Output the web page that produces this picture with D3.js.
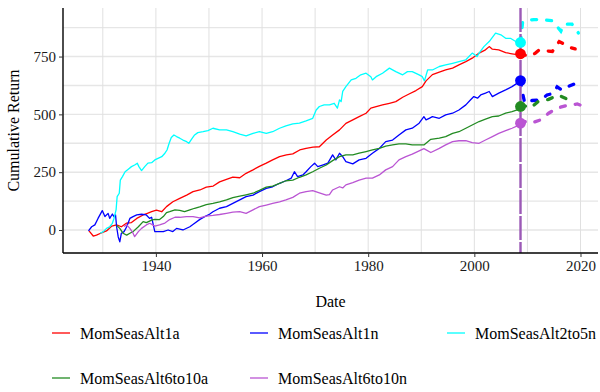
<!DOCTYPE html>
<html>
<head>
<meta charset="utf-8">
<script src="https://cdn.jsdelivr.net/npm/d3@7/dist/d3.min.js"></script>
<style>
  html, body { margin: 0; padding: 0; background: #fff; }
  svg { display: block; font-family: "Liberation Serif", "Times New Roman", serif; }
</style>
</head>
<body>
<svg id="chart" width="600" height="392"></svg>
<script>
// Series names and colours
const seriesNames = ["MomSeasAlt1a", "MomSeasAlt1n", "MomSeasAlt2to5n", "MomSeasAlt6to10a", "MomSeasAlt6to10n"];
const seriesColors = ["#ff0000", "#0000ff", "#00ffff", "#228b22", "#ba55d3"];

// Tick values
const yTicks = [0, 250, 500, 750];
const xTicks = [1940, 1960, 1980, 2000, 2020];

// Sample end (publication date)
const sampleEnd = 2008.7;

// In-sample cumulative returns: [year, value]
const alt1a = [
  [1927.4,-4],[1928.2,-26],[1928.8,-22],[1929.6,-14],[1930.7,-4],[1931.7,17],[1932.6,22],[1933.5,14],
  [1934.5,30],[1935.4,32],[1936.4,50],[1937.6,65],[1938.4,72],[1939.2,79],[1940.1,86],[1941.1,79],
  [1942.0,101],[1943.2,122],[1944.5,137],[1945.8,151],[1947.0,166],[1948.3,173],[1949.5,185],[1950.8,190],
  [1952.0,208],[1953.3,219],[1954.5,229],[1955.8,226],[1957.0,245],[1958.3,260],[1959.5,275],[1960.8,289],
  [1962.0,303],[1963.3,317],[1964.6,325],[1965.8,329],[1967.1,346],[1968.3,353],[1969.6,358],[1970.8,360],
  [1972.1,389],[1973.3,411],[1974.6,433],[1975.8,461],[1977.1,476],[1978.3,490],[1979.6,505],[1980.5,527],
  [1981.5,534],[1982.7,541],[1984.0,548],[1985.2,555],[1986.5,574],[1987.7,588],[1989.0,603],[1990.2,620],
  [1990.9,645],[1992.1,672],[1993.4,683],[1994.6,692],[1995.9,700],[1997.1,714],[1998.4,728],[1999.6,743],
  [2000.9,765],[2002.1,779],[2002.8,793],[2003.4,782],[2004.6,779],[2005.9,767],[2007.1,762],[2008.4,757],
  [2008.7,762]
];
const alt1n = [
  [1927.3,-4],[1927.9,14],[1928.5,22],[1929.1,50],[1929.9,84],[1930.4,58],[1931.0,72],[1931.3,50],
  [1931.8,69],[1932.1,58],[1932.4,65],[1932.6,14],[1932.9,-29],[1933.2,-51],[1933.5,-14],[1934.0,-7],
  [1934.5,14],[1935.1,50],[1935.7,58],[1936.4,65],[1937.3,68],[1938.2,65],[1938.8,50],[1939.2,55],
  [1939.8,-7],[1941.4,-7],[1942.3,0],[1943.2,-7],[1943.9,7],[1945.1,0],[1946.4,14],[1947.3,29],
  [1948.3,46],[1949.2,58],[1950.1,68],[1950.75,79],[1952.0,94],[1953.3,101],[1954.5,115],[1955.8,130],
  [1957.0,144],[1958.3,151],[1959.5,166],[1960.8,180],[1962.0,187],[1963.3,202],[1964.5,213],[1965.5,224],
  [1966.1,252],[1966.7,231],[1967.7,238],[1968.3,252],[1969.2,274],[1969.9,289],[1970.5,274],[1971.4,281],
  [1972.4,289],[1973.3,325],[1973.9,303],[1974.6,332],[1975.2,317],[1975.8,296],[1977.1,286],[1978.3,303],
  [1979.6,310],[1980.8,332],[1982.1,353],[1983.3,382],[1984.6,389],[1985.8,411],[1987.1,433],[1988.3,440],
  [1989.6,462],[1990.5,490],[1990.9,476],[1991.5,483],[1992.1,490],[1993.4,483],[1994.6,498],[1995.9,505],
  [1997.1,519],[1998.4,541],[1999.3,563],[1999.9,577],[2000.6,570],[2001.2,584],[2002.1,592],[2002.8,599],
  [2003.4,577],[2004.6,592],[2005.9,606],[2007.1,620],[2008.1,635],[2008.7,646]
];
const alt2to5n = [
  [1929.5,-14],[1930.1,-7],[1930.7,7],[1931.3,14],[1931.8,29],[1932.1,50],[1932.5,87],[1932.7,144],
  [1933.1,159],[1933.3,216],[1933.7,231],[1934.2,252],[1934.8,263],[1935.4,274],[1936.0,281],[1936.5,289],
  [1936.8,274],[1937.3,257],[1937.9,274],[1938.5,289],[1939.2,291],[1939.8,303],[1940.4,310],[1941.1,317],
  [1941.7,332],[1942.1,346],[1942.5,375],[1942.9,400],[1943.4,411],[1943.9,404],[1944.5,397],[1945.1,389],
  [1945.8,382],[1946.2,375],[1946.7,392],[1947.3,411],[1947.9,421],[1948.9,425],[1949.8,430],[1950.75,440],
  [1952.0,433],[1953.3,433],[1954.5,425],[1955.8,415],[1957.0,407],[1958.3,418],[1959.5,425],[1960.8,418],
  [1962.0,425],[1963.3,440],[1964.5,450],[1965.8,459],[1967.05,462],[1968.3,472],[1969.55,483],[1970.2,519],
  [1970.8,534],[1971.7,541],[1972.7,541],[1973.6,548],[1974.2,527],[1974.6,563],[1974.9,555],[1975.2,599],
  [1975.8,620],[1976.8,649],[1977.7,656],[1978.6,671],[1979.6,678],[1980.5,663],[1980.8,649],[1981.5,663],
  [1982.7,678],[1984.0,700],[1985.2,685],[1986.5,671],[1987.4,685],[1988.3,685],[1989.6,671],[1990.2,663],
  [1990.6,645],[1991.2,692],[1992.1,692],[1993.4,707],[1994.6,714],[1995.9,721],[1997.1,728],[1998.4,736],
  [1999.6,765],[2000.5,750],[2000.9,765],[2001.8,793],[2002.8,815],[2004.0,851],[2005.0,844],[2005.9,829],
  [2006.8,829],[2007.8,815],[2008.4,808],[2008.7,811]
];
const alt6to10a = [
  [1932.6,20],[1933.2,7],[1933.8,-14],[1934.5,-22],[1935.1,-14],[1935.7,-7],[1936.7,14],[1937.6,36],
  [1938.2,32],[1939.2,43],[1939.8,46],[1940.7,45],[1941.4,58],[1942.0,75],[1942.6,79],[1943.6,87],
  [1944.5,85],[1945.4,79],[1946.4,87],[1947.3,94],[1948.25,100],[1949.5,110],[1950.75,115],[1952.0,122],
  [1953.3,130],[1954.5,140],[1955.8,146],[1957.0,152],[1958.3,159],[1959.5,171],[1960.8,185],[1962.0,190],
  [1963.3,202],[1964.5,213],[1965.8,216],[1967.05,228],[1968.3,238],[1969.55,252],[1970.8,267],[1972.1,281],
  [1973.3,300],[1974.6,317],[1975.8,325],[1977.1,325],[1978.3,332],[1979.6,339],[1980.8,346],[1982.1,353],
  [1983.3,363],[1984.6,368],[1985.8,372],[1987.1,372],[1988.3,368],[1989.6,368],[1990.5,368],[1991.8,392],
  [1993.4,397],[1994.6,404],[1995.9,418],[1997.1,425],[1998.4,440],[1999.6,454],[2000.9,469],[2002.1,479],
  [2003.4,490],[2004.6,493],[2005.9,505],[2007.1,512],[2008.1,519],[2008.7,534]
];
const alt6to10n = [
  [1934.0,15],[1934.5,22],[1935.1,7],[1935.7,-14],[1936.0,-29],[1936.7,-7],[1937.3,7],[1938.2,22],
  [1938.85,29],[1939.8,17],[1940.7,22],[1941.7,30],[1942.6,45],[1943.6,55],[1944.5,55],[1945.75,58],
  [1947.0,58],[1948.25,52],[1949.5,60],[1950.75,63],[1952.0,67],[1953.3,72],[1954.5,77],[1955.8,79],
  [1957.0,72],[1958.3,87],[1959.5,101],[1960.8,108],[1962.0,115],[1963.3,122],[1964.5,130],[1965.8,141],
  [1967.05,159],[1968.3,166],[1969.55,170],[1970.8,161],[1972.1,151],[1972.7,153],[1973.3,173],[1974.6,187],
  [1975.2,182],[1975.8,195],[1977.1,205],[1978.3,216],[1979.6,224],[1980.8,224],[1982.1,238],[1983.3,260],
  [1984.6,274],[1985.8,303],[1987.1,317],[1988.3,328],[1989.6,342],[1990.5,352],[1991.8,335],[1993.4,353],
  [1994.6,368],[1995.9,382],[1997.1,386],[1998.4,386],[1999.6,378],[2000.9,375],[2002.1,389],[2003.4,404],
  [2004.6,418],[2005.9,430],[2007.1,440],[2008.1,450],[2008.7,462]
];

// Post-publication cumulative returns: [year, value]
const alt1aPost = [
  [2008.7,762],[2009.2,758],[2010.6,752],[2011.5,765],[2012.2,778],[2014.7,772],[2016.0,815],[2018.1,789],[2019.0,783]
];
const alt1nPost = [
  [2008.7,646],[2009.0,600],[2009.5,550],[2010.9,560],[2012.5,562],[2013.7,584],[2014.8,590],[2015.6,619],
  [2016.5,605],[2017.9,623],[2018.7,630],[2019.5,645]
];
const alt2to5nPost = [
  [2008.7,811],[2009.1,900],[2009.7,905],[2011.2,910],[2012.7,910],[2014.6,905],[2015.4,885],[2016.3,860],
  [2016.9,890],[2018.4,890],[2019.4,860],[2019.6,852]
];
const alt6to10aPost = [
  [2008.7,534],[2009.7,536],[2010.6,528],[2012.0,555],[2014.0,565],[2015.8,584],[2017.8,563],[2019.0,560]
];
const alt6to10nPost = [
  [2008.7,462],[2009.7,469],[2010.6,462],[2012.5,476],[2014.0,505],[2015.6,527],[2017.2,537],[2019.4,545],[2020.0,540]
];

const inSample = [alt1a, alt1n, alt2to5n, alt6to10a, alt6to10n];
const postSample = [alt1aPost, alt1nPost, alt2to5nPost, alt6to10aPost, alt6to10nPost];

const svg = d3.select("#chart");
const panel = { left: 63, right: 598, top: 8, bottom: 253 };

const x = d3.scaleLinear().domain([1922.5, 2023.3]).range([panel.left, panel.right]);
const y = d3.scaleLinear().domain([-99.5, 960]).range([panel.bottom, panel.top]);

// Grid
const grid = svg.append("g");
d3.range(0, 1000, 125).forEach(v => {
  grid.append("line")
    .attr("x1", panel.left).attr("x2", panel.right)
    .attr("y1", y(v)).attr("y2", y(v))
    .attr("stroke", "#e6e6e6").attr("stroke-width", 1.4);
});
d3.range(1930, 2030, 10).forEach(v => {
  grid.append("line")
    .attr("x1", x(v)).attr("x2", x(v))
    .attr("y1", panel.top).attr("y2", panel.bottom)
    .attr("stroke", "#e0e0e0").attr("stroke-width", 1);
});

// Lines
const line = d3.line().x(d => x(d[0])).y(d => y(d[1]));
const lines = svg.append("g");
inSample.forEach((data, i) => {
  lines.append("path").datum(data)
    .attr("d", line)
    .attr("fill", "none")
    .attr("stroke", seriesColors[i])
    .attr("stroke-width", 1.3)
    .attr("stroke-linejoin", "round");
});
postSample.forEach((data, i) => {
  lines.append("path").datum(data)
    .attr("d", line)
    .attr("fill", "none")
    .attr("stroke", seriesColors[i])
    .attr("stroke-width", 3.3)
    .attr("stroke-linecap", "round")
    .attr("stroke-dasharray", "5,10");
});

// Publication marker
svg.append("line")
  .attr("x1", x(sampleEnd)).attr("x2", x(sampleEnd))
  .attr("y1", panel.top).attr("y2", panel.bottom)
  .attr("stroke", "#9b59b6").attr("stroke-width", 2.4)
  .attr("stroke-dasharray", "24,2");

// End-of-sample points
inSample.forEach((data, i) => {
  const last = data[data.length - 1];
  svg.append("circle")
    .attr("cx", x(last[0])).attr("cy", y(last[1]))
    .attr("r", 5.4).attr("fill", seriesColors[i]);
});

// Axes
const yAxis = svg.append("g")
  .attr("transform", `translate(${panel.left},0)`)
  .call(d3.axisLeft(y).tickValues(yTicks).tickSize(4).tickSizeOuter(0).tickPadding(3));
const xAxis = svg.append("g")
  .attr("transform", `translate(0,${panel.bottom})`)
  .call(d3.axisBottom(x).tickValues(xTicks).tickFormat(d3.format("d")).tickSize(4).tickSizeOuter(0).tickPadding(3));
[yAxis, xAxis].forEach(a => {
  a.select(".domain").attr("stroke", "#000").attr("stroke-width", 1.4);
  a.selectAll(".tick line").attr("stroke", "#333").attr("stroke-width", 1);
  a.selectAll(".tick text")
    .attr("fill", "#1a1a1a")
    .style("font-family", "'Liberation Serif', serif")
    .style("font-size", "15px");
});
// Axis domain lines span the whole panel
yAxis.select(".domain").attr("d", `M0,${panel.top}V${panel.bottom}`);
xAxis.select(".domain").attr("d", `M${panel.left},0H${panel.right}`);

// Axis titles
svg.append("text")
  .attr("x", (panel.left + panel.right) / 2).attr("y", 307)
  .attr("text-anchor", "middle")
  .style("font-size", "16px").attr("fill", "#000")
  .text("Date");
svg.append("text")
  .attr("transform", `translate(19,${(panel.top + panel.bottom) / 2}) rotate(-90)`)
  .attr("text-anchor", "middle")
  .style("font-size", "16px").attr("fill", "#000")
  .text("Cumulative Return");

// Legend
const legendPos = [[52, 333], [250, 333], [447, 333], [52, 378], [250, 378]];
seriesNames.forEach((name, i) => {
  const [lx, ly] = legendPos[i];
  const g = svg.append("g").attr("transform", `translate(${lx},${ly})`);
  g.append("line").attr("x1", 0).attr("x2", 18).attr("y1", 0).attr("y2", 0)
    .attr("stroke", seriesColors[i]).attr("stroke-width", 1.3);
  g.append("text").attr("x", 28).attr("y", 0).attr("dy", "0.35em")
    .style("font-size", "16px").attr("fill", "#000")
    .text(name);
});
</script>
</body>
</html>
